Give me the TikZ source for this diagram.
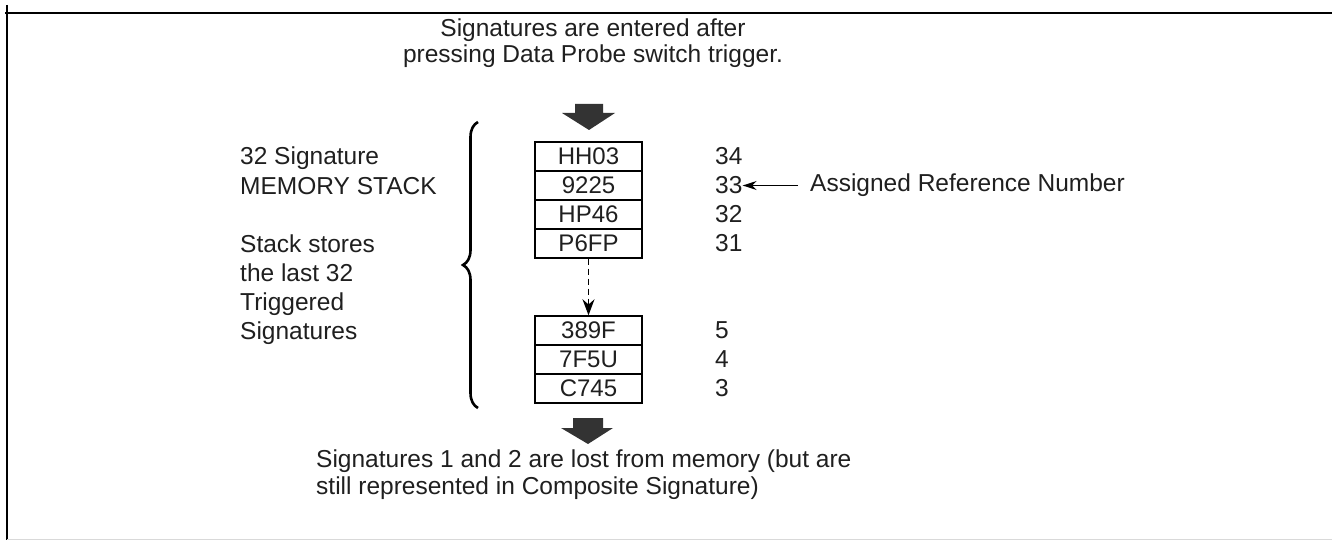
\documentclass[tikz,border=0pt]{standalone}
\usepackage{fontspec}
\setmainfont{Liberation Sans}
\usetikzlibrary{arrows.meta,decorations.pathreplacing}
\begin{document}
\begin{tikzpicture}[x=1pt,y=-1pt,
  txt/.style={font=\fontsize{24.5}{26.5}\selectfont, inner sep=0pt, text=black!88},
  lbl/.style={font=\fontsize{24.5}{29}\selectfont, inner sep=0pt, text=black!88},
  cell/.style={draw, line width=1.4pt, minimum width=107pt, minimum height=29pt, inner sep=0pt, font=\fontsize{24}{26}\selectfont, text=black!88},
  bigarrow/.style={fill=black!80, draw=none},
]
\useasboundingbox (0,0) rectangle (1332,540);
% frame
\draw[line width=1.5pt] (5,13) -- (1332,13);
\draw[line width=2pt] (7,5) -- (7,540);
\draw[black!15, line width=1pt] (7,539) -- (1332,539);

% top text (anchor base = baseline of last line)
\node[txt, align=center, anchor=base] (top) at (593,63) {Signatures are entered after\\pressing Data Probe switch trigger.};

% top arrow
\fill[bigarrow] (575,104) -- (603,104) -- (603,113) -- (615,113) -- (589,130) -- (562,113) -- (575,113) -- cycle;

% cells
\node[cell] (c1) at (588.5,156.5) {HH03};
\node[cell] (c2) at (588.5,185.5) {9225};
\node[cell] (c3) at (588.5,214.5) {HP46};
\node[cell] (c4) at (588.5,243.5) {P6FP};
\node[cell] (c5) at (588.5,330.5) {389F};
\node[cell] (c6) at (588.5,359.5) {7F5U};
\node[cell] (c7) at (588.5,388.5) {C745};

\draw[line width=1.6pt, dash pattern=on 6pt off 4pt, -{Stealth[length=16pt,width=12pt]}] (c4.south) -- (c5.north);

% reference numbers
\node[txt, anchor=west] (n34) at (715,156.5) {34};
\node[txt, anchor=west] (n33) at (715,185.5) {33};
\node[txt, anchor=west] (n32) at (715,214.5) {32};
\node[txt, anchor=west] (n31) at (715,243.5) {31};
\node[txt, anchor=west] (n5) at (715,330.5) {5};
\node[txt, anchor=west] (n4) at (715,359.5) {4};
\node[txt, anchor=west] (n3) at (715,388.5) {3};

\node[txt, anchor=west] (ref) at (810,185.5) {Assigned Reference Number};
\coordinate (refs) at ([xshift=-12pt]ref.west);
\draw[line width=1.6pt, -{Stealth[length=14pt,width=9pt]}] (refs) -- (n33.east);

% left texts (anchor base = baseline of last line)
\node[lbl, anchor=base west, align=left] (lab1) at (240,194) {32 Signature\\MEMORY STACK};
\node[lbl, anchor=base west, align=left] (lab2) at (240,339) {Stack stores\\the last 32\\Triggered\\Signatures};

% brace
\draw[line width=2.6pt, decorate, decoration={brace, amplitude=15pt, raise=0pt}]
  (478,408) -- (478,122);

% bottom arrow
\fill[bigarrow] (573,418) -- (603,418) -- (603,428) -- (613,428) -- (588,444) -- (561,428) -- (573,428) -- cycle;

% bottom text
\node[txt, anchor=base west, align=left] (bot) at (316,494) {Signatures 1 and 2 are lost from memory (but are\\still represented in Composite Signature)};
\end{tikzpicture}
\end{document}
